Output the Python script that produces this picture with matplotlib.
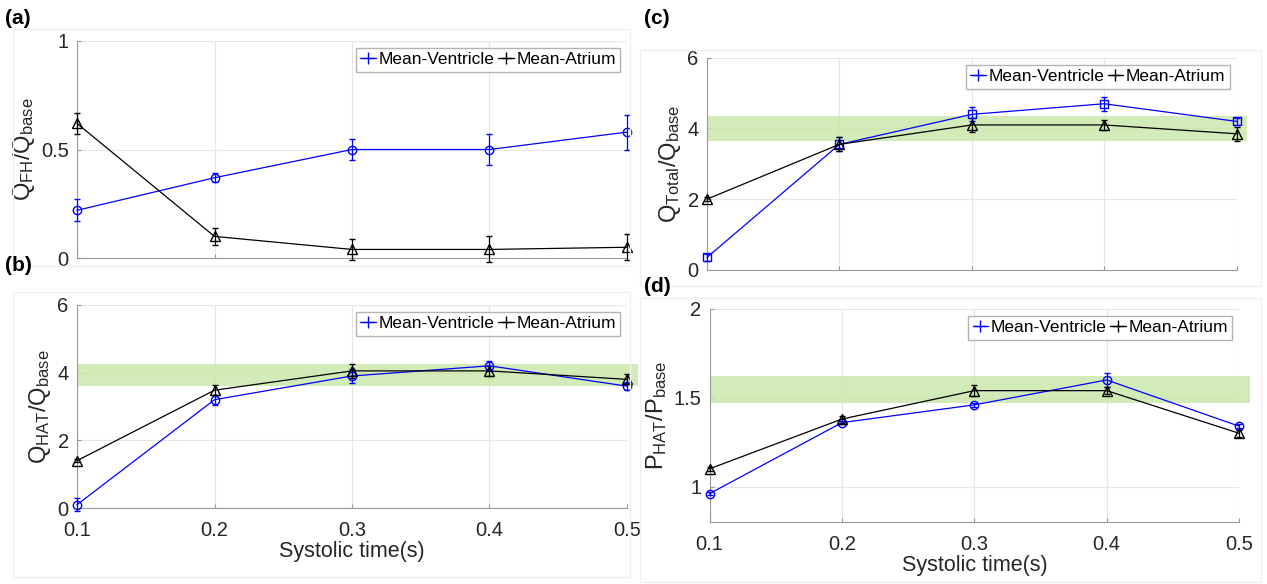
import matplotlib
matplotlib.use("Agg")
import matplotlib.pyplot as plt
from matplotlib.lines import Line2D
from matplotlib.patches import Rectangle

plt.rcParams['font.family'] = ['Liberation Sans', 'DejaVu Sans']
plt.rcParams['mathtext.fontset'] = 'custom'
plt.rcParams['mathtext.rm'] = 'Liberation Sans'
plt.rcParams['mathtext.it'] = 'Liberation Sans'

# systolic time (s)
t = [0.1, 0.2, 0.3, 0.4, 0.5]

# (a) Q_FH / Q_base
a_vent = [0.22, 0.37, 0.50, 0.50, 0.58]
a_vent_err = [0.05, 0.02, 0.05, 0.07, 0.08]
a_atr = [0.62, 0.10, 0.04, 0.04, 0.05]
a_atr_err = [0.05, 0.04, 0.05, 0.06, 0.06]

# (b) Q_HAT / Q_base
b_vent = [0.10, 3.20, 3.90, 4.20, 3.60]
b_vent_err = [0.20, 0.15, 0.20, 0.15, 0.10]
b_atr = [1.40, 3.48, 4.05, 4.05, 3.80]
b_atr_err = [0.05, 0.15, 0.20, 0.15, 0.15]
b_band = [3.60, 4.25]

# (c) Q_Total / Q_base
c_vent = [0.35, 3.55, 4.40, 4.70, 4.20]
c_vent_err = [0.10, 0.20, 0.20, 0.20, 0.10]
c_atr = [2.00, 3.55, 4.10, 4.10, 3.85]
c_atr_err = [0.05, 0.20, 0.20, 0.15, 0.20]
c_band = [3.65, 4.35]

# (d) P_HAT / P_base
d_vent = [0.96, 1.36, 1.46, 1.60, 1.34]
d_vent_err = [0.01, 0.01, 0.01, 0.04, 0.01]
d_atr = [1.10, 1.38, 1.54, 1.54, 1.30]
d_atr_err = [0.01, 0.02, 0.03, 0.02, 0.02]
d_band = [1.47, 1.62]

fig = plt.figure(figsize=(12.67, 5.84), dpi=100)

# faint panel frames
for x0, y0, w, h in [(0.010, 0.545, 0.487, 0.405), (0.010, 0.012, 0.487, 0.488),
                     (0.505, 0.510, 0.490, 0.405), (0.505, 0.003, 0.490, 0.487)]:
    fig.patches.append(Rectangle((x0, y0), w, h, transform=fig.transFigure,
                                 fill=False, edgecolor='#f0f0f0', lw=1))

axa = fig.add_axes([0.0608, 0.558, 0.434, 0.372])
axb = fig.add_axes([0.0608, 0.130, 0.434, 0.348])
axc = fig.add_axes([0.558, 0.538, 0.418, 0.363])
axd = fig.add_axes([0.560, 0.106, 0.418, 0.365])

panels = [
    (axa, a_vent, a_vent_err, a_atr, a_atr_err, None, 'o', (0, 1), [0, 0.5, 1],
     r'Q$_{\mathrm{FH}}$/Q$_{\mathrm{base}}$', False),
    (axb, b_vent, b_vent_err, b_atr, b_atr_err, b_band, 'o', (0, 6), [0, 2, 4, 6],
     r'Q$_{\mathrm{HAT}}$/Q$_{\mathrm{base}}$', True),
    (axc, c_vent, c_vent_err, c_atr, c_atr_err, c_band, 's', (0, 6), [0, 2, 4, 6],
     r'Q$_{\mathrm{Total}}$/Q$_{\mathrm{base}}$', False),
    (axd, d_vent, d_vent_err, d_atr, d_atr_err, d_band, 'o', (0.8, 2), [1, 1.5, 2],
     r'P$_{\mathrm{HAT}}$/P$_{\mathrm{base}}$', True),
]

for ax, v, ve, a, ae, band, vm, ylim, yt, ylab, show_x in panels:
    if band is not None:
        ax.axhspan(band[0], band[1], xmin=0, xmax=1.02, color='#c9e6a6',
                   alpha=0.8, lw=0, zorder=1, clip_on=False)
    ax.errorbar(t, v, yerr=ve, color='blue', marker=vm, mfc='none', ms=6,
                lw=0.9, elinewidth=0.9, capsize=2, zorder=3, clip_on=False)
    ax.errorbar(t, a, yerr=ae, color='black', marker='^', mfc='none', ms=7.5,
                lw=0.9, elinewidth=0.9, capsize=2, zorder=3, clip_on=False)
    ax.set_xlim(0.1, 0.5)
    ax.set_ylim(*ylim)
    ax.set_xticks(t)
    ax.set_yticks(yt)
    ax.set_yticklabels([('%g' % y) for y in yt])
    if show_x:
        ax.set_xticklabels(['0.1', '0.2', '0.3', '0.4', '0.5'])
        ax.set_xlabel('Systolic time(s)', fontsize=15.5, color='#262626', labelpad=1)
    else:
        ax.set_xticklabels([])
    ax.set_ylabel(ylab, fontsize=17, color='#262626', labelpad=3)
    ax.grid(True, color='#e6e6e6', lw=0.8)
    ax.set_axisbelow(True)
    for s in ['top', 'right']:
        ax.spines[s].set_visible(False)
    for s in ['left', 'bottom']:
        ax.spines[s].set_color('#9a9a9a')
        ax.spines[s].set_linewidth(0.8)
    ax.tick_params(direction='in', length=3, color='#9a9a9a', labelsize=14.5,
                   labelcolor='#262626', pad=6)
    ax.tick_params(axis='x', pad=9)
    handles = [Line2D([], [], color='blue', marker='+', ms=9, lw=0.9),
               Line2D([], [], color='black', marker='+', ms=9, lw=0.9)]
    ax.legend(handles, ['Mean-Ventricle', 'Mean-Atrium'], loc='upper right',
              ncol=2, fontsize=12.5, frameon=True, fancybox=False,
              edgecolor='#a0a0a0', handlelength=0.9, handletextpad=0.15,
              columnspacing=0.2, borderpad=0.25, borderaxespad=0.4)

for x, y, lab in [(0.004, 0.969, '(a)'), (0.004, 0.546, '(b)'),
                  (0.508, 0.969, '(c)'), (0.508, 0.509, '(d)')]:
    fig.text(x, y, lab, fontsize=15, fontweight='bold', va='center')

fig.savefig('out.png', dpi=100)
